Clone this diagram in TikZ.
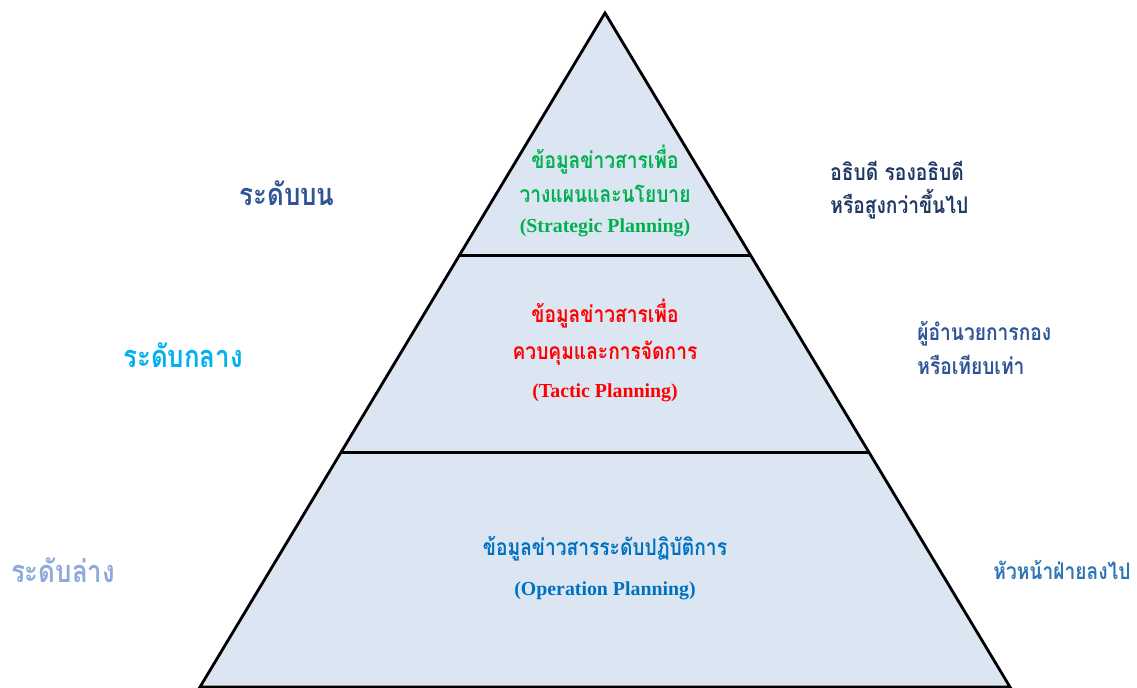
\documentclass[tikz,border=0pt]{standalone}
\usepackage{fontspec}
\newfontfamily\thaifont[Script=Thai,FakeStretch=0.84]{Loma}
\newfontfamily\enfont{Liberation Serif}
\usepackage{tikz}
\usetikzlibrary{positioning,calc}

\definecolor{pyrfill}{RGB}{220,230,242}
\definecolor{stratgreen}{RGB}{0,176,80}
\definecolor{tacticred}{RGB}{255,0,0}
\definecolor{operblue}{RGB}{0,112,192}
\definecolor{topblue}{RGB}{47,85,151}
\definecolor{midblue}{RGB}{0,176,240}
\definecolor{lowblue}{RGB}{142,169,219}
\definecolor{navy}{RGB}{31,56,100}
\definecolor{rightlow}{RGB}{46,117,182}

\begin{document}
\begin{tikzpicture}[x=0.02cm, y=-0.02cm,
    thai/.style={font=\thaifont\bfseries\fontsize{13}{19}\selectfont, align=center, inner sep=0pt},
    eng/.style={font=\enfont\bfseries\fontsize{11.3}{13}\selectfont, inner sep=0pt},
    level/.style={thai, font=\thaifont\bfseries\fontsize{17.5}{20}\selectfont},
    side/.style={thai, align=left}]

    \useasboundingbox (0,0) rectangle (1137,688);

    % the pyramid
    \coordinate (apex) at (605,13);
    \coordinate (bl) at (200,687);
    \coordinate (br) at (1010,687);
    \filldraw[fill=pyrfill, line width=1.6pt, line join=miter] (apex) -- (bl) -- (br) -- cycle;

    % level separators
    \coordinate (s1l) at ($(apex)!0.36!(bl)$);
    \coordinate (s1r) at ($(apex)!0.36!(br)$);
    \coordinate (s2l) at ($(apex)!0.652!(bl)$);
    \coordinate (s2r) at ($(apex)!0.652!(br)$);
    \draw[line width=1.6pt] (s1l) -- (s1r);
    \draw[line width=1.6pt] (s2l) -- (s2r);

    % texts inside the pyramid
    \node[thai, text=stratgreen] (strat) at (605,174) {ข้อมูลข่าวสารเพื่อ\\วางแผนและนโยบาย};
    \node[eng, text=stratgreen, below=9pt of strat] (straten) {(Strategic Planning)};

    \node[thai, text=tacticred, font=\thaifont\bfseries\fontsize{13}{21}\selectfont] (tact) at (605,332) {ข้อมูลข่าวสารเพื่อ\\ควบคุมและการจัดการ};
    \node[eng, text=tacticred, below=10pt of tact] (tacten) {(Tactic Planning)};

    \node[thai, text=operblue] (oper) at (605,549) {ข้อมูลข่าวสารระดับปฏิบัติการ};
    \node[eng, text=operblue, below=11pt of oper] (operen) {(Operation Planning)};

    % levels on the left
    \node[level, text=topblue] (lvltop) at (287,193) {ระดับบน};
    \node[level, text=midblue] (lvlmid) at (183,355) {ระดับกลาง};
    \node[level, text=lowblue] (lvllow) at (63,570) {ระดับล่าง};

    % positions on the right
    \node[side, text=navy, anchor=west] (postop) at (830,190) {อธิบดี รองอธิบดี\\หรือสูงกว่าขึ้นไป};
    \node[side, text=topblue, anchor=west] (posmid) at (917,348) {ผู้อำนวยการกอง\\หรือเทียบเท่า};
    \node[side, text=rightlow, anchor=west] (poslow) at (993,570) {หัวหน้าฝ่ายลงไป};

\end{tikzpicture}
\end{document}
